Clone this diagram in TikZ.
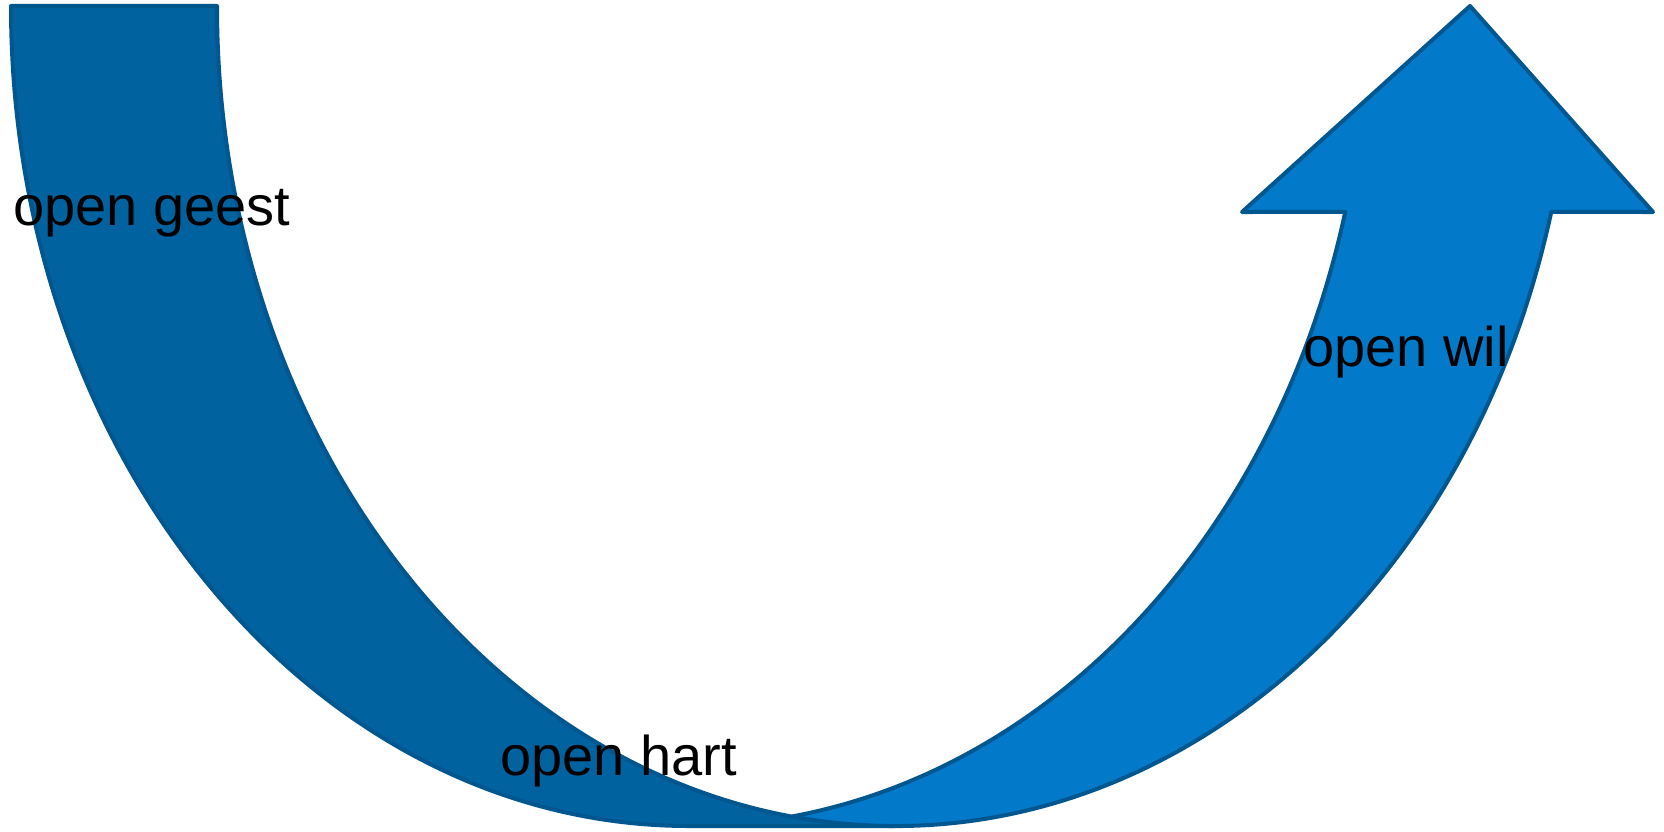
\documentclass[tikz,border=0pt]{standalone}
\usepackage{fontspec}
\setmainfont{Liberation Sans}
\definecolor{backblue}{HTML}{00629F}
\definecolor{frontblue}{HTML}{037AC9}
\definecolor{edgeblue}{HTML}{00568F}
\begin{document}
\begin{tikzpicture}[x=1pt,y=-1pt,
  band/.style={draw=edgeblue,line width=4pt,line join=round},
  txt/.style={anchor=base west,inner sep=0pt,font=\fontsize{56}{60}\selectfont,text=black}]
\useasboundingbox (0,0) rectangle (1664,832);
% back band (left)
\path[band,fill=backblue] (11,6)
  arc[start angle=180,end angle=90,x radius=678,y radius=820]
  -- (895,826)
  arc[start angle=90,end angle=180,x radius=678,y radius=820]
  -- cycle;
% front arrow (right)
\coordinate (P) at ([shift={(895,6)}]98.74:678 and 820);
\coordinate (rw) at (1653,212);
\coordinate (tip) at (1470,6);
\coordinate (lw) at (1242,212);
\coordinate (notch) at ([shift={(689,6)}]14.55:678 and 820);
\path[band,fill=frontblue] (P)
  arc[start angle=98.74,end angle=14.55,x radius=678,y radius=820]
  -- (rw) -- (tip) -- (lw) -- (notch)
  arc[start angle=14.55,end angle=81.26,x radius=678,y radius=820]
  -- cycle;
% labels
\node[txt] (geest) at (13,225) {open geest};
\node[txt] (hart) at (500,775) {open hart};
\node[txt] (wil) at (1303,366) {open wil};
\end{tikzpicture}
\end{document}
